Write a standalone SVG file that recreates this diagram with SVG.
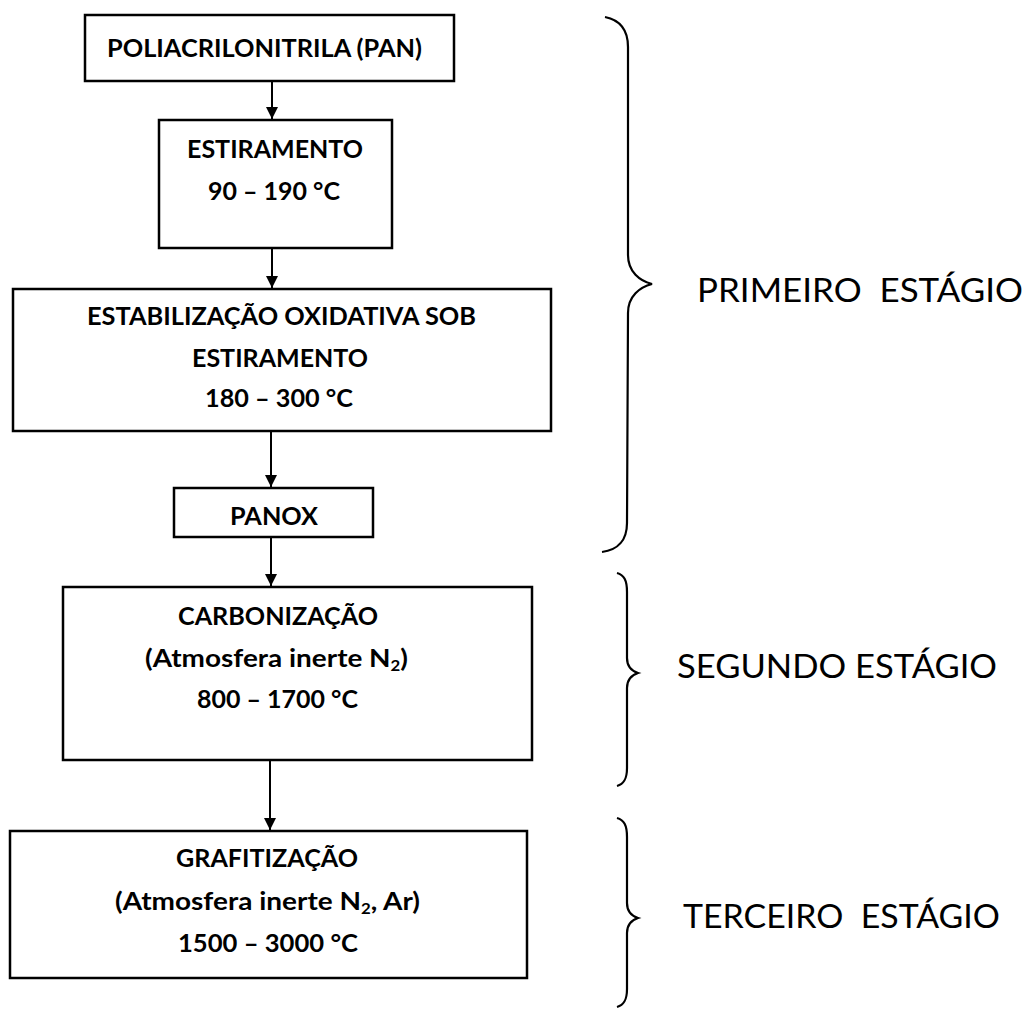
<svg xmlns="http://www.w3.org/2000/svg" width="1033" height="1010" viewBox="0 0 1033 1010">
<style>
.box{fill:#fff;stroke:#000;stroke-width:2.5}
.t{font-family:Lato,"Liberation Sans",sans-serif;font-weight:700;font-size:25px;fill:#000;text-anchor:middle}
.s{font-family:Lato,"Liberation Sans",sans-serif;font-weight:400;font-size:32px;fill:#000;white-space:pre}
.sub{font-size:15px}
.con{stroke:#000;stroke-width:2;fill:none}
.brace{stroke:#000;stroke-width:2.2;fill:none}
</style>
<defs>
<marker id="ah" markerWidth="14" markerHeight="14" refX="12" refY="6" orient="auto" markerUnits="userSpaceOnUse">
<path d="M0,0 L12,6 L0,12 Z" fill="#000"/>
</marker>
</defs>
<rect width="1033" height="1010" fill="#fff"/>
<g id="connectors">
<line class="con" x1="272" y1="81" x2="272" y2="119" marker-end="url(#ah)"/>
<line class="con" x1="272" y1="249" x2="272" y2="288" marker-end="url(#ah)"/>
<line class="con" x1="271" y1="432" x2="271" y2="487" marker-end="url(#ah)"/>
<line class="con" x1="271" y1="538" x2="271" y2="586" marker-end="url(#ah)"/>
<line class="con" x1="270" y1="761" x2="270" y2="830" marker-end="url(#ah)"/>
</g>
<g id="pan">
<rect class="box" x="85" y="15" width="369" height="66"/>
<text class="t" x="264.5" y="57" textLength="315" lengthAdjust="spacingAndGlyphs">POLIACRILONITRILA (PAN)</text>
</g>
<g id="estiramento">
<rect class="box" x="159" y="120" width="233" height="128"/>
<text class="t" x="275" y="158" textLength="176" lengthAdjust="spacingAndGlyphs">ESTIRAMENTO</text>
<text class="t" x="274" y="200" textLength="132" lengthAdjust="spacingAndGlyphs">90 – 190 °C</text>
</g>
<g id="estabilizacao">
<rect class="box" x="13" y="289" width="538" height="142"/>
<text class="t" x="281.5" y="325" textLength="389" lengthAdjust="spacingAndGlyphs">ESTABILIZAÇÃO OXIDATIVA SOB</text>
<text class="t" x="280" y="367" textLength="176" lengthAdjust="spacingAndGlyphs">ESTIRAMENTO</text>
<text class="t" x="279" y="407" textLength="148" lengthAdjust="spacingAndGlyphs">180 – 300 °C</text>
</g>
<g id="panox">
<rect class="box" x="174" y="488" width="199" height="49"/>
<text class="t" x="274" y="525" textLength="88" lengthAdjust="spacingAndGlyphs">PANOX</text>
</g>
<g id="carbonizacao">
<rect class="box" x="63" y="587" width="469" height="173"/>
<text class="t" x="278" y="625" textLength="200" lengthAdjust="spacingAndGlyphs">CARBONIZAÇÃO</text>
<text class="t" x="276.5" y="667" textLength="263" lengthAdjust="spacingAndGlyphs">(Atmosfera inerte N<tspan class="sub" dy="4">2</tspan><tspan dy="-4">)</tspan></text>
<text class="t" x="277.5" y="708" textLength="161" lengthAdjust="spacingAndGlyphs">800 – 1700 °C</text>
</g>
<g id="grafitizacao">
<rect class="box" x="10" y="831" width="517" height="147"/>
<text class="t" x="267" y="867" textLength="182" lengthAdjust="spacingAndGlyphs">GRAFITIZAÇÃO</text>
<text class="t" x="267.5" y="910" textLength="305" lengthAdjust="spacingAndGlyphs">(Atmosfera inerte N<tspan class="sub" dy="4">2</tspan><tspan dy="-4">, Ar)</tspan></text>
<text class="t" x="268" y="952" textLength="180" lengthAdjust="spacingAndGlyphs">1500 – 3000 °C</text>
</g>
<g id="stage1">
<path class="brace" d="M605,17 C620,20 628,30 628,47 L628,255 C628,272 640,281 652,284 C640,287 628,296 628,313 L627,523 C627,540 618,550 602,552"/>
<text class="s" x="697" y="302" textLength="326" lengthAdjust="spacingAndGlyphs" xml:space="preserve">PRIMEIRO  ESTÁGIO</text>
</g>
<g id="stage2">
<path class="brace" d="M617,573 C624,575 627,580 627,592 L627,658 C627,666 632,671 638,673 C632,675 627,680 627,688 L627,768 C627,779 624,784 617,786"/>
<text class="s" x="677" y="678" textLength="320" lengthAdjust="spacingAndGlyphs">SEGUNDO ESTÁGIO</text>
</g>
<g id="stage3">
<path class="brace" d="M617,818 C624,820 627,825 627,837 L627,903 C627,911 632,916 638,918 C632,920 627,925 627,933 L627,989 C627,1000 624,1005 617,1007"/>
<text class="s" x="683" y="928" textLength="317" lengthAdjust="spacingAndGlyphs" xml:space="preserve">TERCEIRO  ESTÁGIO</text>
</g>
</svg>
